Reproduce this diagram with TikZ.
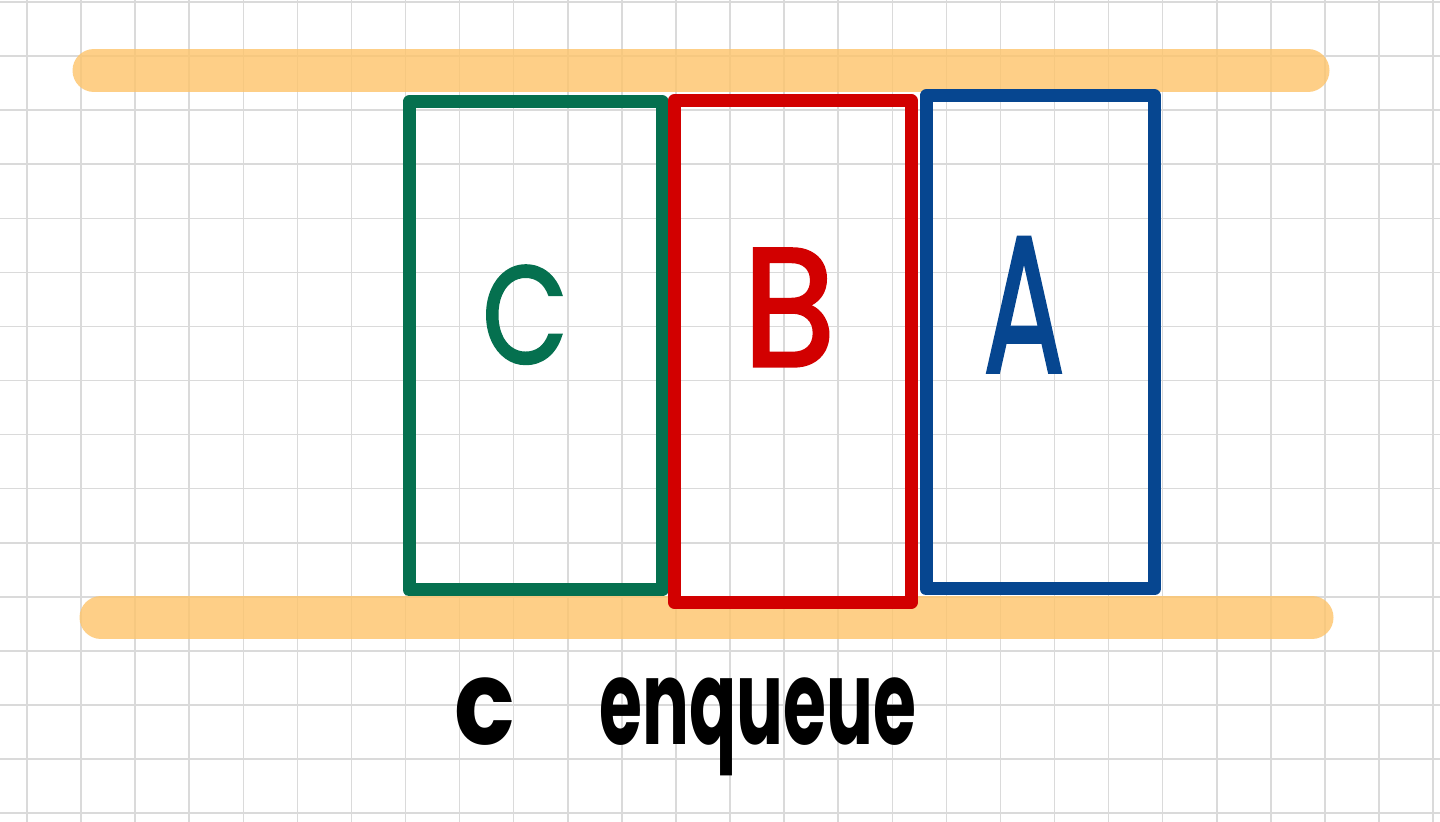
\documentclass[tikz,border=0pt]{standalone}
\usepackage{fontspec}
\setmainfont{Poppins}
\newfontfamily\letterfont[FakeBold=2]{Poppins}
\definecolor{gridgray}{HTML}{DADADA}
\definecolor{barorange}{HTML}{FEC46A}
\definecolor{boxgreen}{HTML}{05704F}
\definecolor{boxred}{HTML}{D20000}
\definecolor{boxblue}{HTML}{064690}
\tikzset{
  gridline/.style={draw=gridgray, line width=0.75pt},
  bar/.style={draw=barorange, line width=21.5pt, line cap=round, draw opacity=0.8},
  slot/.style={line width=6.5pt, line join=round},
  letter/.style={inner sep=0pt, anchor=base},
  caption/.style={inner sep=0pt, anchor=base, font=\fontsize{59}{60}\selectfont\bfseries, text=black},
}
\begin{document}
\begin{tikzpicture}[x=0.5pt, y=-0.5pt]
\useasboundingbox (0,0) rectangle (1440,822);
\fill[white] (0,0) rectangle (1440,822);
% grid
\foreach \k in {0,...,26} {\draw[gridline] ({27+54.08*\k},0) -- ({27+54.08*\k},822);}
\foreach \k in {0,...,15} {\draw[gridline] (0,{2+54.08*\k}) -- (1440,{2+54.08*\k});}
% orange rails
\coordinate (t1) at (94,70.5);
\coordinate (t2) at (1308,70.5);
\coordinate (b1) at (101,617.5);
\coordinate (b2) at (1312,617.5);
\draw[bar] (t1) -- (t2);
\draw[bar] (b1) -- (b2);
% slots
\draw[slot, boxgreen] (409,102) rectangle (662,590);
\draw[slot, boxred] (674.5,100.5) rectangle (911,602.5);
\draw[slot, boxblue] (926,96) rectangle (1154.5,589);
% letters
\node[letter, text=boxgreen, font=\letterfont\fontsize{69}{70}\selectfont, xscale=0.8] (lc) at (525,363) {C};
\node[letter, text=boxred, font=\letterfont\fontsize{84}{85}\selectfont, xscale=0.9] (lb) at (789,366) {B};
\node[letter, text=boxblue, font=\letterfont\fontsize{97}{98}\selectfont, xscale=0.62] (la) at (1024,372) {A};
% caption
\node[caption, xscale=0.85] (cc) at (485,745) {c};
\node[caption, xscale=0.59] (ce) at (758,745) {enqueue};
\end{tikzpicture}
\end{document}
